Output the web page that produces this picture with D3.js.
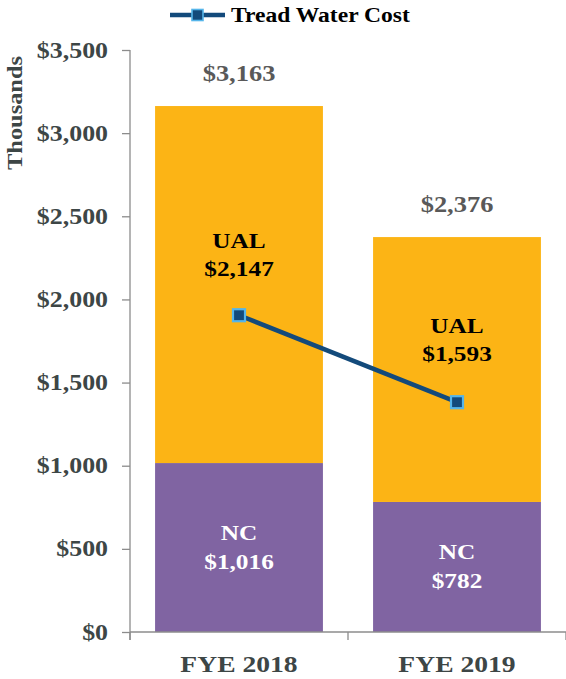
<!DOCTYPE html>
<html lang="en">
<head>
<meta charset="UTF-8">
<title>Tread Water Cost</title>
<script src="https://d3js.org/d3.v7.min.js"></script>
<style>
  body { margin: 0; background: #fff; }
  svg text { font-family: 'Liberation Serif', 'Times New Roman', serif; font-weight: bold; }
</style>
</head>
<body>
<div id="chart"></div>
<script>
// --- Data ---
const categories = ["FYE 2018", "FYE 2019"];
const ncValues = [1016, 782];
const ualValues = [2147, 1593];
const totalLabels = [3163, 2376];
const treadWater = [1905, 1382];
const yTicks = [0, 500, 1000, 1500, 2000, 2500, 3000, 3500];

const width = 566, height = 679;
const orange = "#FCB415", purple = "#8064A2";
const lineColor = "#134A7B", markerEdge = "#55B5EA";
const sx = 1.15; // fonts in the reference look a bit wide

const svg = d3.select("#chart").append("svg")
  .attr("width", width).attr("height", height);

const x = d3.scaleBand().domain(categories).range([130, 566])
  .paddingInner(0.23).paddingOuter(0.115);
const y = d3.scaleLinear().domain([0, 3500]).range([632, 50]);
const fmt = d3.format("$,");

// wide text helper
function label(g, tx, ty, str, size, fill, anchor = "middle") {
  return g.append("text")
    .attr("transform", `translate(${tx},${ty}) scale(${sx},1)`)
    .attr("text-anchor", anchor)
    .attr("font-size", size)
    .attr("fill", fill)
    .text(str);
}

// --- Y axis ---
const yAxis = svg.append("g").attr("transform", "translate(130,0)")
  .call(d3.axisLeft(y).tickValues(yTicks).tickFormat(fmt).tickSizeOuter(0).tickSize(8));
yAxis.select(".domain").attr("stroke", "#8c8c8c").attr("stroke-width", 1.3)
  .attr("d", `M0,${y(3500)}V640`);
yAxis.selectAll(".tick line").attr("stroke", "#8c8c8c").attr("stroke-width", 1.3);
yAxis.selectAll(".tick text").remove();
yTicks.forEach(v => label(svg, 108, y(v) + 7.5, fmt(v), 22.5, "#3d4646", "end"));

svg.append("text")
  .attr("transform", `translate(22,${y(3500) + 63}) rotate(-90) scale(1.22,1)`)
  .attr("text-anchor", "middle")
  .attr("font-size", 20)
  .attr("fill", "#3d4646")
  .text("Thousands");

// --- Bars ---
const bars = svg.append("g");
bars.selectAll("rect.nc").data(categories).join("rect")
  .attr("class", "nc")
  .attr("x", d => x(d)).attr("width", x.bandwidth())
  .attr("y", (d, i) => y(ncValues[i]))
  .attr("height", (d, i) => y(0) - y(ncValues[i]))
  .attr("fill", purple);
bars.selectAll("rect.ual").data(categories).join("rect")
  .attr("class", "ual")
  .attr("x", d => x(d)).attr("width", x.bandwidth())
  .attr("y", (d, i) => y(ncValues[i] + ualValues[i]))
  .attr("height", (d, i) => y(ncValues[i]) - y(ncValues[i] + ualValues[i]))
  .attr("fill", orange);

// --- X axis ---
const xAxis = svg.append("g");
xAxis.append("line").attr("x1", 130).attr("x2", 566).attr("y1", y(0)).attr("y2", y(0))
  .attr("stroke", "#8c8c8c").attr("stroke-width", 1.3);
[130, 130 + x.step(), 566].forEach(px => {
  xAxis.append("line").attr("x1", px).attr("x2", px).attr("y1", y(0)).attr("y2", y(0) + 8)
    .attr("stroke", "#8c8c8c").attr("stroke-width", 1.3);
});
categories.forEach(c => label(xAxis, x(c) + x.bandwidth() / 2, 672, c, 24, "#3d4646"));

// --- Labels ---
categories.forEach((c, i) => {
  const cx = x(c) + x.bandwidth() / 2;
  label(svg, cx, y(totalLabels[i]) - 25, fmt(totalLabels[i]), 23, "#595959");
  const ualMid = y(ncValues[i] + ualValues[i] / 2) - 30;
  label(svg, cx, ualMid - 7, "UAL", 22, "#000");
  label(svg, cx, ualMid + 21, fmt(ualValues[i]), 22, "#000");
  const ncMid = y(ncValues[i] / 2);
  label(svg, cx, ncMid - 8, "NC", 22, "#fff");
  label(svg, cx, ncMid + 21, fmt(ncValues[i]), 22, "#fff");
});

// --- Tread water line ---
const pts = categories.map((c, i) => [x(c) + x.bandwidth() / 2, y(treadWater[i])]);
svg.append("path").attr("d", d3.line()(pts))
  .attr("fill", "none").attr("stroke", lineColor).attr("stroke-width", 4.5);
svg.selectAll("rect.mk").data(pts).join("rect")
  .attr("class", "mk")
  .attr("x", d => d[0] - 6).attr("y", d => d[1] - 6)
  .attr("width", 12).attr("height", 12)
  .attr("fill", lineColor).attr("stroke", markerEdge).attr("stroke-width", 2.2);

// --- Legend ---
const lg = svg.append("g");
lg.append("line").attr("x1", 170).attr("x2", 225).attr("y1", 15).attr("y2", 15)
  .attr("stroke", lineColor).attr("stroke-width", 4.5);
lg.append("rect").attr("x", 192).attr("y", 9.5).attr("width", 11).attr("height", 11)
  .attr("fill", lineColor).attr("stroke", markerEdge).attr("stroke-width", 1.6);
label(lg, 231, 22, "Tread Water Cost", 20.5, "#000", "start");
</script>
</body>
</html>
